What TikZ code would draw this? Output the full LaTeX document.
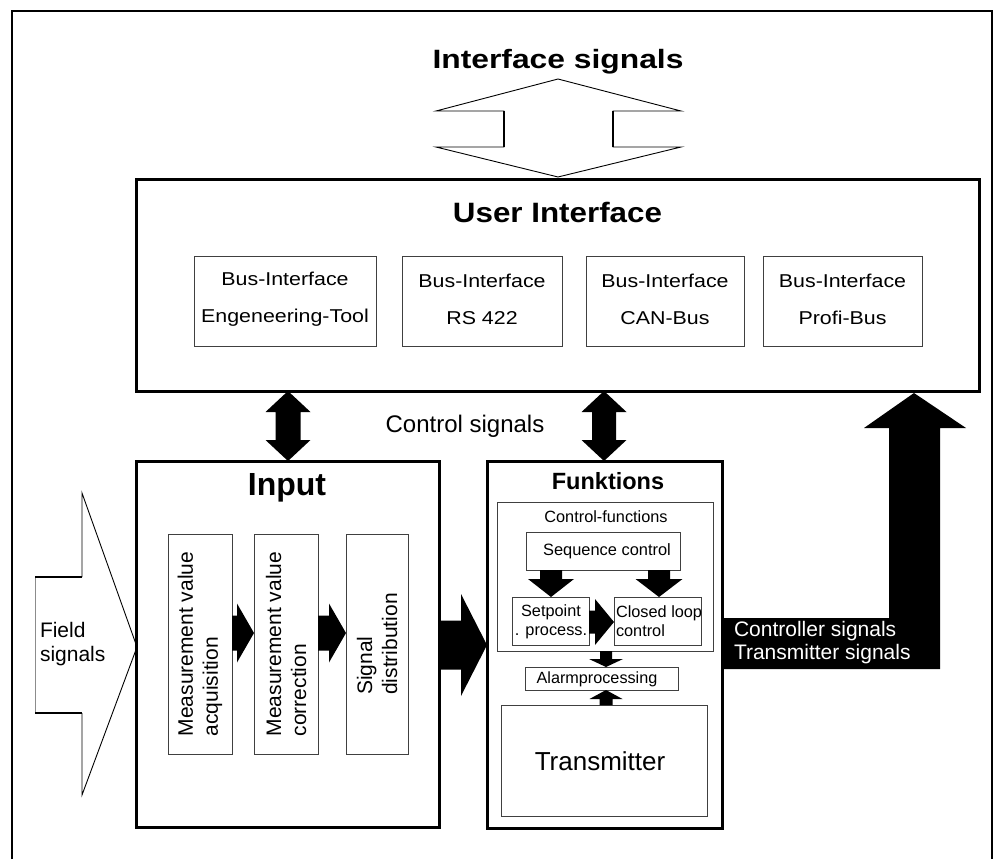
\documentclass[tikz,border=0pt]{standalone}
\usepackage{fontspec}
\setmainfont{Liberation Sans}
\newfontfamily\wideA[FakeStretch=1.2]{Liberation Sans}
\newfontfamily\wideB[FakeStretch=1.12]{Liberation Sans}
\newfontfamily\wideC[FakeStretch=1.15]{Liberation Sans}
\usetikzlibrary{calc}
% block arrows: #1 start, #2 tip, #3 shaft half width, #4 head half width, #5 head length
\newcommand\blkright[5]{\fill let \p1=(#1),\p2=(#2) in
  (\x1,\y2+#3) -- (\x2-#5,\y2+#3) -- (\x2-#5,\y2+#4) -- (\x2,\y2) --
  (\x2-#5,\y2-#4) -- (\x2-#5,\y2-#3) -- (\x1,\y2-#3) -- cycle;}
\newcommand\blkdown[5]{\fill let \p1=(#1),\p2=(#2) in
  (\x2-#3,\y1) -- (\x2-#3,\y2+#5) -- (\x2-#4,\y2+#5) -- (\x2,\y2) --
  (\x2+#4,\y2+#5) -- (\x2+#3,\y2+#5) -- (\x2+#3,\y1) -- cycle;}
\newcommand\blkup[5]{\fill let \p1=(#1),\p2=(#2) in
  (\x2-#3,\y1) -- (\x2-#3,\y2-#5) -- (\x2-#4,\y2-#5) -- (\x2,\y2) --
  (\x2+#4,\y2-#5) -- (\x2+#3,\y2-#5) -- (\x2+#3,\y1) -- cycle;}
\newcommand\blkupdown[5]{\fill let \p1=(#1),\p2=(#2) in
  (\x1,\y1) -- (\x1+#4,\y1-#5) -- (\x1+#3,\y1-#5) -- (\x1+#3,\y2+#5) --
  (\x1+#4,\y2+#5) -- (\x1,\y2) -- (\x1-#4,\y2+#5) -- (\x1-#3,\y2+#5) --
  (\x1-#3,\y1-#5) -- (\x1-#4,\y1-#5) -- cycle;}
\begin{document}
\begin{tikzpicture}[x=1pt,y=-1pt,
  bigbox/.style={draw, line width=3pt, inner sep=0pt, outer sep=0pt, anchor=north west},
  smallbox/.style={draw=black!75, line width=1pt, inner sep=0pt, outer sep=0pt, anchor=north west},
  txt/.style={inner sep=0pt, outer sep=0pt},
  thinline/.style={line width=0.9pt, line join=miter},
  boldedge/.style={line width=2.2pt},
]
\useasboundingbox (0,0) rectangle (1008,859);
\fill[white] (0,0) rectangle (1008,859);
% outer frame
\draw[line width=2pt] (12,859) -- (12,11) -- (992,11) -- (992,859);

% helper coordinates
\coordinate (yA) at (0,633);
\coordinate (yB) at (0,645);
\coordinate (ySP) at (0,622);
\coordinate (y618) at (0,618);
\coordinate (y669) at (0,669);
\coordinate (xL) at (288,0);
\coordinate (xM) at (604,0);
\coordinate (xS1) at (551,0);
\coordinate (xS2) at (659,0);
\coordinate (xAl) at (606,0);

% top: interface signals
\node[txt, anchor=base, font=\wideA\bfseries\fontsize{26.5}{30}\selectfont] (ist) at (558,68.5) {Interface signals};
\draw[thinline] (558,79) -- (681,111) -- (613,111) -- (613,147) -- (681,147) -- (558,177)
  -- (436,147) -- (504,147) -- (504,111) -- (436,111) -- cycle;
\draw[boldedge] (504,111) -- (504,147) (613,111) -- (613,147);

% User interface
\node[bigbox, minimum width=843pt, minimum height=212pt] (ui) at (136,179) {};
\node[txt, anchor=base, font=\wideB\bfseries\fontsize{28}{32}\selectfont] (uit) at (557.5,222.5) {User Interface};
\node[smallbox, minimum width=182pt, minimum height=90pt] (b1) at (194,256) {};
\node[smallbox, minimum width=160pt, minimum height=90pt] (b2) at (402,256) {};
\node[smallbox, minimum width=158pt, minimum height=90pt] (b3) at (586,256) {};
\node[smallbox, minimum width=159pt, minimum height=90pt] (b4) at (763,256) {};
\tikzset{bustxt/.style={txt, align=center, yshift=2pt, font=\wideC\fontsize{18.6}{37}\selectfont}}
\node[bustxt] at (b1.center) {Bus-Interface\\Engeneering-Tool};
\node[bustxt] at (b2.center) {Bus-Interface\\RS 422};
\node[bustxt] at (b3.center) {Bus-Interface\\CAN-Bus};
\node[bustxt] at (b4.center) {Bus-Interface\\Profi-Bus};

% control signals
\node[txt, anchor=base, font=\fontsize{24}{28}\selectfont] (cst) at (465,432) {Control signals};

% Input block
\node[bigbox, minimum width=303pt, minimum height=366pt] (inp) at (136,461) {};
\node[txt, anchor=base, font=\bfseries\fontsize{32}{36}\selectfont] (inpt) at (287,495) {Input};
\node[smallbox, minimum width=64pt, minimum height=220pt] (i1) at (168,534) {};
\node[smallbox, minimum width=64pt, minimum height=220pt] (i2) at (254,534) {};
\node[smallbox, minimum width=62pt, minimum height=220pt] (i3) at (346,534) {};
\tikzset{rottxt/.style={txt, rotate=90, align=left, font=\fontsize{21}{25}\selectfont}}
\node[rottxt] at (i1.center) {Measurement value\\acquisition};
\node[rottxt] at (i2.center) {Measurement value\\correction};
\node[rottxt] at (i3.center) {Signal\\distribution};

% Field signals hollow arrow
\draw[thinline] (82,577) -- (82,493) -- (137,647) -- (82,795) -- (82,713);
\draw[line width=0.9pt, black!45] (35,577) -- (35,713);
\draw[boldedge] (35,577) -- (82,577) (35,713) -- (82,713);
\node[txt, anchor=west, align=left, font=\fontsize{21}{24}\selectfont] (fst) at (40,644) {Field\\signals};

% Funktions block
\node[bigbox, minimum width=235pt, minimum height=367pt] (fk) at (487,461) {};
\node[txt, anchor=base, font=\bfseries\fontsize{23.5}{27}\selectfont] (fkt) at (608,489) {Funktions};
\node[smallbox, minimum width=216pt, minimum height=149pt] (cf) at (497,502) {};
\node[txt, anchor=base, font=\fontsize{16.3}{19}\selectfont] (cft) at (606,522) {Control-functions};
\node[smallbox, minimum width=154pt, minimum height=38pt] (sq) at (526,532) {};
\node[txt, font=\fontsize{16.4}{19}\selectfont] at (607,551) {Sequence control};
\node[smallbox, minimum width=77pt, minimum height=48pt] (sp) at (512,597) {};
\node[txt, align=center, font=\fontsize{16.3}{19}\selectfont] at (551,621.5) {Setpoint\\. process.};
\node[smallbox, minimum width=87pt, minimum height=48pt] (cl) at (614,597) {};
\node[txt, anchor=west, align=left, font=\fontsize{16.3}{19}\selectfont] at (616,621.5) {Closed loop\\control};
\node[smallbox, minimum width=153pt, minimum height=23pt] (al) at (525,667) {};
\node[txt, font=\fontsize{16.2}{19}\selectfont] at (597,679) {Alarmprocessing};
\node[smallbox, minimum width=206pt, minimum height=111pt] (tr) at (501,705) {};
\node[txt, font=\fontsize{26}{30}\selectfont] at (600,761) {Transmitter};

% block arrows
\blkright{i1.east |- yA}{i2.west |- yA}{17.5pt}{29.5pt}{17pt}
\blkright{i2.east |- yA}{i3.west |- yA}{17.5pt}{29.5pt}{17pt}
\blkright{inp.east |- yB}{fk.west |- yB}{24.5pt}{51pt}{26pt}
\blkupdown{ui.south -| xL}{inp.north -| xL}{12.5pt}{22.5pt}{21pt}
\blkupdown{ui.south -| xM}{fk.north -| xM}{12pt}{22.5pt}{21pt}
\blkdown{sq.south -| xS1}{sp.north -| xS1}{11pt}{23pt}{18pt}
\blkdown{sq.south -| xS2}{cl.north -| xS2}{11pt}{23.5pt}{18pt}
\blkright{sp.east |- ySP}{cl.west |- ySP}{11.5pt}{23pt}{19pt}
\blkdown{cf.south -| xAl}{al.north -| xAl}{6pt}{17pt}{8pt}
\blkup{tr.north -| xAl}{al.south -| xAl}{6.5pt}{16.5pt}{9pt}

% L-shaped output arrow
\coordinate (ltip) at (914,393);
\fill (fk.east |- y618) -- (889,618) -- (889,428) -- (864,428) -- (ltip)
  -- (966,428) -- (940,428) -- (940,669) -- (fk.east |- y669) -- cycle;
\node[txt, anchor=west, align=left, text=white, font=\fontsize{21}{23}\selectfont] (cst2) at (734,642.5) {Controller signals\\Transmitter signals};
\end{tikzpicture}
\end{document}
